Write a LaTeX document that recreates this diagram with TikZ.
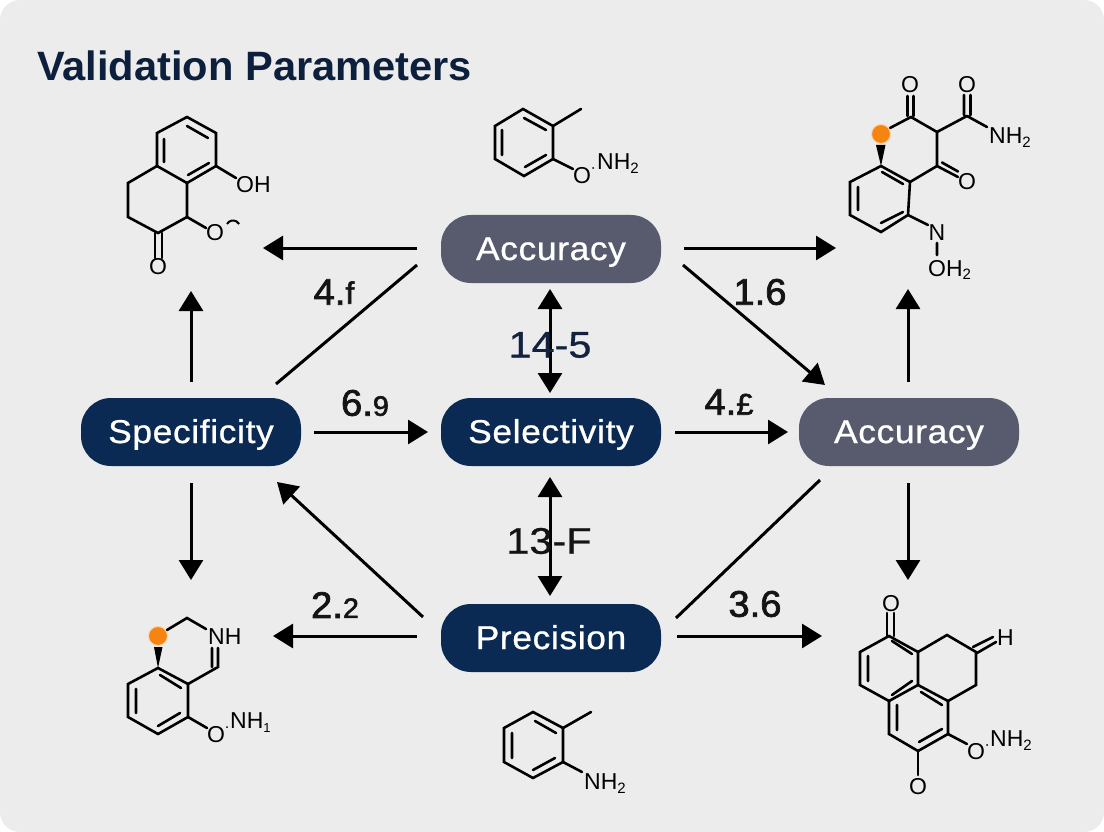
\documentclass[tikz,border=0pt]{standalone}
\usepackage{fontspec}
\setmainfont{Liberation Sans}
\newfontfamily\uifont[FakeStretch=1.07,LetterSpace=2,FakeBold=0.8]{Liberation Sans}
\newfontfamily\labfont[FakeStretch=1.03,FakeBold=2]{Liberation Sans}
\newfontfamily\midfont[FakeStretch=1.12,FakeBold=0.8]{Liberation Sans}
\newfontfamily\titlefont[FakeStretch=1.015]{Liberation Sans}
\usetikzlibrary{arrows.meta}
\definecolor{bgcol}{HTML}{ECECEC}
\definecolor{navy}{HTML}{0A2A54}
\definecolor{slate}{HTML}{585B6E}
\definecolor{titlecol}{HTML}{0C1F3C}
\definecolor{dotcol}{HTML}{F58410}
\definecolor{labblue}{HTML}{12223F}
\newcommand{\subn}[1]{\raisebox{-4pt}{\fontsize{15}{15}\selectfont #1}}
\tikzset{
  x=1pt,y=-1pt,
  pill/.style={rounded corners=30pt,minimum width=220pt,minimum height=68pt,inner sep=0pt,text=white,text height=22pt,text depth=0pt,font=\uifont\fontsize{33}{33}\selectfont},
  navypill/.style={pill,fill=navy},
  slatepill/.style={pill,fill=slate},
  arr/.style={line width=3pt,-{Triangle[length=20pt,width=24pt]}},
  darr/.style={line width=3pt,{Triangle[length=20pt,width=24pt]}-{Triangle[length=20pt,width=24pt]}},
  plainln/.style={line width=3pt},
  edgelab/.style={inner sep=0pt,font=\labfont\fontsize{37}{37}\selectfont,text=black!92},
  midlab/.style={edgelab,font=\midfont\fontsize{37}{37}\selectfont},
  bond/.style={line width=2.6pt,line join=miter,line cap=round},
  atom/.style={inner sep=0pt,anchor=base west,font=\fontsize{23}{23}\selectfont},
  atomc/.style={inner sep=0pt,font=\fontsize{23}{23}\selectfont},
  wedge/.style={fill=black,draw=none},
  dotn/.style={circle,fill=dotcol,draw=dotcol!35!white,line width=1pt,minimum size=19pt,inner sep=0pt},
}
\begin{document}
\begin{tikzpicture}
\useasboundingbox (0,0) rectangle (1104,832);
\fill[white] (0,0) rectangle (1104,832);
\fill[bgcol,rounded corners=20pt] (0,0) rectangle (1104,832);

\node[inner sep=0pt,anchor=base west,text=titlecol,font=\titlefont\bfseries\fontsize{41}{41}\selectfont] (title) at (37,81) {Validation Parameters};

% pills
\node[slatepill] (acctop) at (551,249) {Accuracy};
\node[navypill] (spec) at (191,432) {Specificity};
\node[navypill] (sel) at (551,432) {Selectivity};
\node[slatepill] (accright) at (909,432) {Accuracy};
\node[navypill] (prec) at (551,638) {Precision};

% free ends of the connectors
\coordinate (mA) at (263,248);
\coordinate (mB) at (836,248);
\coordinate (mC) at (191,291);
\coordinate (mD) at (191,580);
\coordinate (mE) at (908,289);
\coordinate (mF) at (908,580);
\coordinate (mG) at (273,636);
\coordinate (mH) at (822,636);

% connectors
\draw[arr] ([xshift=-134pt,yshift=1pt]acctop.center) -- (mA);
\draw[arr] ([xshift=133pt,yshift=1pt]acctop.center) -- (mB);
\draw[plainln] ([xshift=-134pt,yshift=-16pt]acctop.center) -- ([xshift=85pt,yshift=48pt]spec.center);
\draw[arr] ([xshift=132pt,yshift=-16pt]acctop.center) -- ([xshift=-84pt,yshift=47pt]accright.center);
\draw[darr] ([xshift=-1pt,yshift=-40pt]acctop.center) -- ([xshift=-1pt,yshift=39pt]sel.center);
\draw[arr] ([yshift=50pt]spec.center) -- (mC);
\draw[arr] ([yshift=-51pt]spec.center) -- (mD);
\draw[arr] ([xshift=123pt]spec.center) -- ([xshift=-123pt]sel.center);
\draw[arr] ([xshift=124pt]sel.center) -- ([xshift=-121pt]accright.center);
\draw[arr] ([xshift=-1pt,yshift=50pt]accright.center) -- (mE);
\draw[arr] ([xshift=-1pt,yshift=-51pt]accright.center) -- (mF);
\draw[darr] ([xshift=-1pt,yshift=-45pt]sel.center) -- ([xshift=-1pt,yshift=42pt]prec.center);
\draw[arr] ([xshift=-128pt,yshift=21pt]prec.center) -- ([xshift=86pt,yshift=-50pt]spec.center);
\draw[arr] ([xshift=-134pt,yshift=2pt]prec.center) -- (mG);
\draw[plainln] ([xshift=-89pt,yshift=-48pt]accright.center) -- ([xshift=125pt,yshift=20pt]prec.center);
\draw[arr] ([xshift=126pt,yshift=2pt]prec.center) -- (mH);

% connector labels
\node[edgelab] (l1) at (334,292) {4.\raisebox{1pt}{\fontsize{31}{31}\selectfont f}};
\node[edgelab] (l2) at (760,292) {1.6};
\node[midlab,text=labblue] (l3) at (550,345) {14-5};
\node[edgelab] (l4) at (365,403) {6.{\fontsize{28}{28}\selectfont 9}};
\node[edgelab] (l5) at (729,402) {4.{\fontsize{30}{30}\selectfont £}};
\node[midlab] (l6) at (549,541) {13-F};
\node[edgelab] (l7) at (335,605) {2.{\fontsize{28}{28}\selectfont 2}};
\node[edgelab] (l8) at (755,604) {3.6};

% molecule 1 (top left)
\draw[bond] (187,117)--(216,133)--(216,166)--(187,183)--(157,166)--(157,133)--cycle;
\draw[bond] (187,126)--(208,138) (164,139)--(164,162) (188,175)--(209,163);
\draw[bond] (157,166)--(128,183)--(128,217)--(158,233)--(187,217)--(187,183);
\draw[bond] (155,233)--(155,258) (162,233)--(162,258);
\draw[bond] (216,166)--(236,178) (187,217)--(206,228);
\draw[line width=2pt] (227,224) arc[start angle=150,end angle=30,radius=7pt];
\node[atom] (m1oh) at (236,193) {OH};
\node[atomc] (m1o) at (215,233) {O};
\node[atomc] (m1o2) at (158,267) {O};

% molecule 2 (top right)
\draw[bond] (881,166)--(910,182)--(908,215)--(881,232)--(850,215)--(850,182)--cycle;
\draw[bond] (882,172)--(903,184) (858,187)--(858,210) (881,223)--(903,212);
\draw[bond] (910,182)--(937,166)--(937,132)--(911,117)--(890,128);
\draw[bond] (907.5,96)--(907.5,116) (913.5,96)--(913.5,116);
\draw[bond] (937,132)--(967,116) (964,95)--(964,115) (970.5,95)--(970.5,115) (967,116)--(987,127);
\draw[bond] (937,166)--(958,177) (942,162.5)--(958,171.5);
\draw[bond] (908,215)--(928,225) (937,243)--(937,255);
\fill[wedge] (881,166)--(876,145)--(885.5,145)--cycle;
\node[dotn] (m2dot) at (881,134) {};
\node[atomc] (m2a) at (910,85) {O};
\node[atomc] (m2b) at (967,85) {O};
\node[atomc] (m2c) at (967,182) {O};
\node[atomc] (m2d) at (937,233) {N};
\node[atom] (m2e) at (989,144) {NH\subn{2}};
\node[atom] (m2f) at (928,276) {OH\subn{2}};

% molecule 3 (bottom left)
\draw[bond] (158,668)--(188,684)--(188,717)--(158,734)--(128,717)--(128,684)--cycle;
\draw[bond] (160,675)--(181,688) (136,689)--(136,713) (158,726)--(180,713);
\draw[bond] (188,684)--(218,667)--(218,648) (212,648)--(212,667);
\draw[bond] (167,630)--(187,618)--(206,629);
\draw[bond] (188,717)--(207,728);
\fill[wedge] (158,668)--(154,647)--(162.5,647)--cycle;
\node[dotn] (m3dot) at (158,636) {};
\node[atom] (m3a) at (208,644) {NH};
\node[atomc] (m3b) at (216,735) {O};
\fill (227,727) circle (1pt);
\node[atom] (m3c) at (230,728) {NH\subn{\fontsize{13}{13}\selectfont 1}};

% molecule 4 (bottom right)
\draw[bond] (889,636)--(918,652)--(918,685)--(889,701)--(860,685)--(860,652)--cycle;
\draw[bond] (892,641)--(912,654) (868,656)--(868,681) (892,695)--(912,681);
\draw[bond] (889,701)--(889,734)--(918,751)--(948,734)--(948,701)--(918,685);
\draw[bond] (921,692)--(942,705) (897,705)--(897,730) (919,742)--(942,729);
\draw[bond] (918,652)--(947,635)--(976,652)--(976,685)--(948,701);
\draw[bond] (973,647)--(993,637) (977,653)--(996,642);
\draw[bond] (887,613)--(887,636) (894,613)--(894,636);
\draw[bond] (918,751)--(918,775);
\draw[bond] (948,734)--(967,744);
\node[atomc] (m4a) at (891,604) {O};
\node[atom] (m4b) at (997,645) {H};
\node[atomc] (m4c) at (918,787) {O};
\node[atomc] (m4d) at (976,752) {O};
\fill (987,745) circle (1pt);
\node[atom] (m4e) at (990,746) {NH\subn{2}};

% molecule 5 (top middle)
\draw[bond] (523,109)--(553,126)--(553,159)--(524,176)--(495,159)--(495,126)--cycle;
\draw[bond] (524,118)--(546,130) (502,130)--(502,155) (525,167)--(546,155);
\draw[bond] (553,126)--(581,109);
\draw[bond] (553,159)--(573,169);
\node[atomc] (m5a) at (582,176) {O};
\fill (593,168) circle (1pt);
\node[atom] (m5b) at (597,170) {NH\subn{2}};

% molecule 6 (bottom middle)
\draw[bond] (533,712)--(563,728)--(563,762)--(533,778)--(504,762)--(504,728)--cycle;
\draw[bond] (535,721)--(556,733) (512,733)--(512,758) (533,770)--(555,758);
\draw[bond] (563,728)--(591,712);
\draw[bond] (563,762)--(582,772);
\node[atom] (m6a) at (584,789) {NH\subn{2}};
\end{tikzpicture}
\end{document}
